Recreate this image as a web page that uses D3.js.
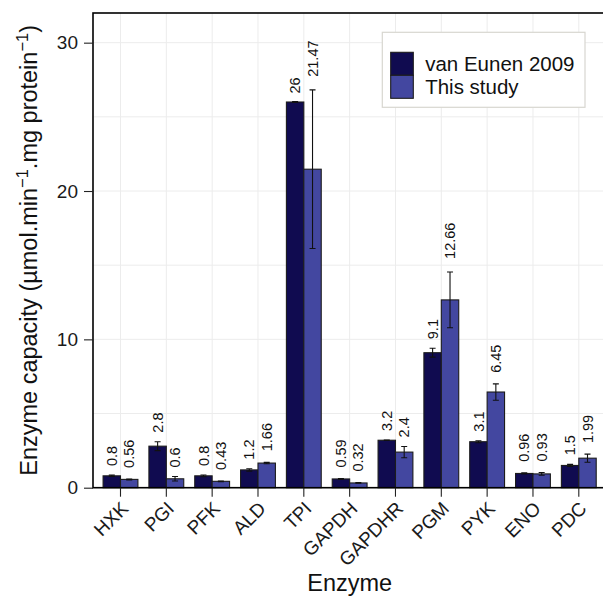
<!DOCTYPE html>
<html><head><meta charset="utf-8">
<script src="https://cdn.jsdelivr.net/npm/d3@7"></script>
<style>
body{margin:0;background:#fff}
svg{display:block;font-family:"Liberation Sans",Arial,Helvetica,sans-serif}
</style>
</head><body>
<svg id="chart" width="603" height="597"></svg>
<script>
// Enzyme capacities (µmol/min/mg protein), mean and error per enzyme
const enzymes = ["HXK","PGI","PFK","ALD","TPI","GAPDH","GAPDHR","PGM","PYK","ENO","PDC"];
const vanEunen2009    = [0.8, 2.8, 0.8, 1.2, 26, 0.59, 3.2, 9.1, 3.1, 0.96, 1.5];
const vanEunen2009Err = [0.05, 0.3, 0.06, 0.08, 0.03, 0.02, 0.02, 0.3, 0.07, 0.04, 0.07];
const thisStudy       = [0.56, 0.6, 0.43, 1.66, 21.47, 0.32, 2.4, 12.66, 6.45, 0.93, 1.99];
const thisStudyErr    = [0.03, 0.15, 0.02, 0.05, 5.35, 0.02, 0.38, 1.88, 0.55, 0.09, 0.27];
const seriesNames  = ["van Eunen 2009", "This study"];
const seriesColors = ["#100b50", "#4347a0"];
const yTicks = [0, 10, 20, 30];
const yMinorTicks = [5, 15, 25];

const svg = d3.select("#chart");
const panel = {left: 93, top: 13, right: 606.3, bottom: 487.7};

const x = d3.scaleBand().domain(enzymes)
  .range([panel.left, panel.right]).paddingInner(0).paddingOuter(0.1);
const y = d3.scaleLinear().domain([0, 32]).range([panel.bottom, panel.top]);
const groupW = x.bandwidth() * 0.76;
const xs = d3.scaleBand().domain(seriesNames).range([0, groupW]);

// long-form records for both series
const rows = [];
enzymes.forEach((e, i) => {
  rows.push({enzyme: e, series: seriesNames[0], value: vanEunen2009[i], err: vanEunen2009Err[i]});
  rows.push({enzyme: e, series: seriesNames[1], value: thisStudy[i], err: thisStudyErr[i]});
});
const color = d3.scaleOrdinal().domain(seriesNames).range(seriesColors);
const barX = d => x(d.enzyme) + (x.bandwidth() - groupW) / 2 + xs(d.series);
const barCx = d => barX(d) + xs.bandwidth() / 2;

// panel background and grid
svg.append("rect").attr("x", panel.left).attr("y", panel.top)
  .attr("width", panel.right - panel.left).attr("height", panel.bottom - panel.top)
  .attr("fill", "#fff");
const grid = svg.append("g").attr("stroke", "#ececec").attr("stroke-width", 1);
grid.selectAll("line.h").data(yTicks.concat(yMinorTicks)).join("line")
  .attr("x1", panel.left).attr("x2", panel.right)
  .attr("y1", d => y(d)).attr("y2", d => y(d));
grid.selectAll("line.v").data(enzymes).join("line")
  .attr("x1", d => x(d) + x.bandwidth() / 2).attr("x2", d => x(d) + x.bandwidth() / 2)
  .attr("y1", panel.top).attr("y2", panel.bottom);

// bars
svg.append("g").selectAll("rect").data(rows).join("rect")
  .attr("x", barX).attr("width", xs.bandwidth())
  .attr("y", d => y(d.value)).attr("height", d => y(0) - y(d.value))
  .attr("fill", d => color(d.series))
  .attr("stroke", "#1c1c1c").attr("stroke-width", 1.1);

// error bars
const eb = svg.append("g").attr("stroke", "#111").attr("stroke-width", 1.1).attr("fill", "none");
eb.selectAll("path").data(rows).join("path")
  .attr("d", d => {
    const cx = barCx(d), t = y(d.value + d.err), b = y(Math.max(0, d.value - d.err)), c = 3;
    return `M${cx - c},${t}H${cx + c}M${cx},${t}V${b}M${cx - c},${b}H${cx + c}`;
  });

// value labels, rotated, above each error bar
const lbl = svg.append("g").attr("font-size", 14.5).attr("fill", "#111");
lbl.selectAll("text").data(rows).join("text")
  .text(d => String(d.value))
  .attr("dy", "0.35em")
  .each(function(d) {
    const w = this.getComputedTextLength();
    const y0 = y(d.value + d.err) - (4 + 0.25 * w);
    d3.select(this).attr("transform", `translate(${barCx(d)},${y0}) rotate(-90)`);
  });

// panel border
svg.append("rect").attr("x", panel.left).attr("y", panel.top)
  .attr("width", panel.right - panel.left).attr("height", panel.bottom - panel.top)
  .attr("fill", "none").attr("stroke", "#000").attr("stroke-width", 1.6);

// y axis
const yAxis = svg.append("g").attr("transform", `translate(${panel.left},0)`)
  .call(d3.axisLeft(y).tickValues(yTicks).tickSize(9).tickPadding(6).tickFormat(d3.format("d")));
yAxis.select(".domain").remove();
yAxis.selectAll("line").attr("stroke", "#222").attr("stroke-width", 1.1);
yAxis.selectAll("text").attr("font-size", 19).attr("fill", "#1a1a1a")
  .attr("font-family", "Liberation Sans, Arial, sans-serif");

// x axis
const xAxis = svg.append("g").attr("transform", `translate(0,${panel.bottom})`)
  .call(d3.axisBottom(x).tickSize(9).tickPadding(0));
xAxis.select(".domain").remove();
xAxis.selectAll("line").attr("stroke", "#222").attr("stroke-width", 1.1);
xAxis.selectAll("text").attr("font-size", 19).attr("fill", "#1a1a1a")
  .attr("font-family", "Liberation Sans, Arial, sans-serif")
  .attr("text-anchor", "end").attr("dy", null).attr("y", null)
  .attr("transform", "translate(9,22) rotate(-45)");

// axis titles
svg.append("text").attr("x", (panel.left + panel.right) / 2).attr("y", 591)
  .attr("text-anchor", "middle").attr("font-size", 23.5).attr("fill", "#111").text("Enzyme");
const yt = svg.append("text")
  .attr("transform", `translate(37,${(panel.top + panel.bottom) / 2}) rotate(-90)`)
  .attr("text-anchor", "middle").attr("font-size", 23.5).attr("fill", "#111");
yt.append("tspan").text("Enzyme capacity (µmol.min");
yt.append("tspan").attr("font-size", 16.5).attr("dy", "-0.55em").text("−1");
yt.append("tspan").attr("dy", "0.39em").text(".mg protein");
yt.append("tspan").attr("font-size", 16.5).attr("dy", "-0.55em").text("−1");
yt.append("tspan").attr("dy", "0.39em").text(")");

// legend
const lg = svg.append("g");
lg.append("rect").attr("x", 382.3).attr("y", 32.3).attr("width", 202.7).attr("height", 75)
  .attr("fill", "#fff").attr("stroke", "#d8d6d0").attr("stroke-width", 1.2);
const item = lg.selectAll("g").data(seriesNames).join("g")
  .attr("transform", (d, i) => `translate(390.7,${52.3 + i * 23})`);
item.append("rect").attr("width", 22.6).attr("height", 23)
  .attr("fill", d => color(d)).attr("stroke", "#1c1c1c").attr("stroke-width", 1.1);
item.append("text").attr("x", 34.5).attr("y", 11.5).attr("dy", "0.36em")
  .attr("font-size", 20.5).attr("fill", "#111").text(d => d);
</script>
</body></html>
